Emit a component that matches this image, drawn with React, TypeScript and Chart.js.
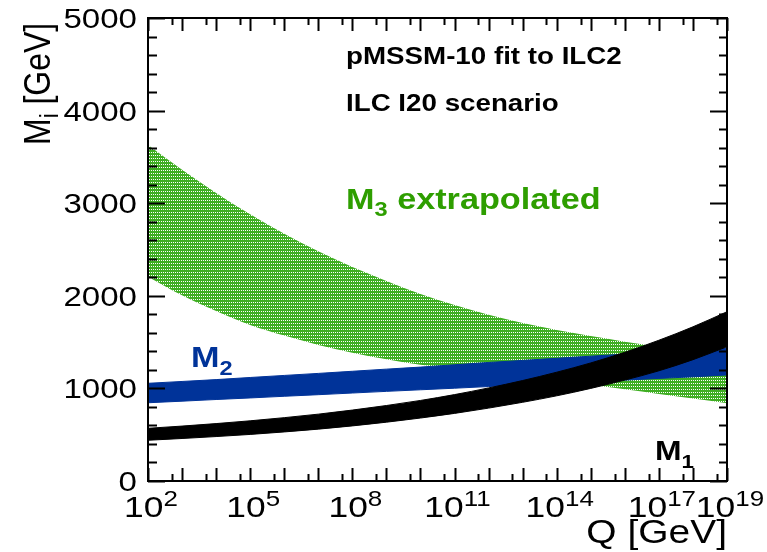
import { useEffect, useRef } from 'react';
import { Chart, registerables } from 'chart.js';

Chart.register(...registerables);

// Renormalisation scale exponents: Q = 10^e GeV
const qExponents = [2, 3, 4, 5, 6, 7, 8, 9, 10, 11, 12, 13, 14, 15, 16, 17, 18, 19];

// Gluino mass parameter M3 (extrapolated band), GeV
const m3Upper = [3628, 3360, 3110, 2880, 2670, 2480, 2310, 2160, 2020, 1900, 1795, 1705, 1630, 1565, 1505, 1450, 1395, 1345];
const m3Lower = [2206, 2005, 1835, 1685, 1570, 1470, 1385, 1315, 1255, 1213, 1167, 1121, 1080, 1039, 990, 940, 890, 839];

// Wino mass parameter M2, GeV
const m2Upper = [1055, 1075, 1095, 1118, 1140, 1162, 1185, 1208, 1230, 1255, 1280, 1302, 1325, 1348, 1370, 1390, 1410, 1433];
const m2Lower = [845, 862, 880, 897, 915, 932, 950, 968, 985, 1002, 1020, 1038, 1055, 1072, 1090, 1108, 1125, 1145];

// Bino mass parameter M1, GeV
const m1Upper = [569, 593, 620, 650, 684, 722, 766, 815, 870, 933, 1005, 1085, 1175, 1275, 1390, 1520, 1665, 1828];
const m1Lower = [440, 459, 480, 503, 530, 560, 595, 635, 680, 730, 787, 850, 920, 1000, 1090, 1190, 1310, 1450];

// Axis labelling
const xLabelExponents = [2, 5, 8, 11, 14, 17, 19];
const yLabelValues = [0, 1000, 2000, 3000, 4000, 5000];
const yMinorStep = 200;

const FONT = '"Liberation Sans", Arial, Helvetica, sans-serif';
const SX = 1.18; // horizontal text stretch

const GREEN_FILL = '#3fae22';
const GREEN_TEXT = '#2e9e00';
const BLUE = '#003399';

function series(values: number[]) {
  return qExponents.map((e, i) => ({ x: Math.pow(10, e), y: values[i] }));
}

function makeHatch(ctx: CanvasRenderingContext2D) {
  const c = document.createElement('canvas');
  c.width = 2;
  c.height = 3;
  const g = c.getContext('2d')!;
  g.fillStyle = GREEN_FILL;
  g.fillRect(0, 0, 2, 3);
  g.fillStyle = '#ffffff';
  g.fillRect(1, 2, 1, 1);
  return ctx.createPattern(c, 'repeat')!;
}

function text(
  ctx: CanvasRenderingContext2D,
  str: string,
  x: number,
  y: number,
  font: string,
  color: string,
  align: CanvasTextAlign = 'left'
) {
  ctx.save();
  ctx.font = font;
  ctx.fillStyle = color;
  ctx.textAlign = align;
  ctx.textBaseline = 'alphabetic';
  ctx.translate(x, y);
  ctx.scale(SX, 1);
  ctx.fillText(str, 0, 0);
  const w = ctx.measureText(str).width * SX;
  ctx.restore();
  return w;
}

function measure(ctx: CanvasRenderingContext2D, str: string, font: string) {
  ctx.save();
  ctx.font = font;
  const w = ctx.measureText(str).width * SX;
  ctx.restore();
  return w;
}

// Symbol with a subscript, e.g. M_3
function subText(
  ctx: CanvasRenderingContext2D,
  main: string,
  sub: string,
  rest: string,
  x: number,
  y: number,
  size: number,
  subSize: number,
  subDrop: number,
  color: string
) {
  const f = `bold ${size}px ${FONT}`;
  const fs = `bold ${subSize}px ${FONT}`;
  let cx = x;
  cx += text(ctx, main, cx, y, f, color);
  cx += text(ctx, sub, cx, y + subDrop, fs, color);
  if (rest) text(ctx, rest, cx, y, f, color);
}

const framePlugin = {
  id: 'rootFrame',
  afterDraw(chart: any) {
    const ctx: CanvasRenderingContext2D = chart.ctx;
    const { left, right, top, bottom } = chart.chartArea;
    const xs = chart.scales.x;
    const ys = chart.scales.y;

    ctx.save();
    ctx.strokeStyle = '#000';
    ctx.lineWidth = 2;
    ctx.strokeRect(left, top, right - left, bottom - top);

    // x ticks (bottom and top), decades and 5x10^n
    ctx.beginPath();
    for (let e = 2; e <= 19; e++) {
      const px = Math.round(xs.getPixelForValue(Math.pow(10, e))) + 0.5;
      ctx.moveTo(px, bottom);
      ctx.lineTo(px, bottom - 13);
      ctx.moveTo(px, top);
      ctx.lineTo(px, top + 13);
      if (e < 19) {
        const pm = Math.round(xs.getPixelForValue(5 * Math.pow(10, e))) + 0.5;
        ctx.moveTo(pm, bottom);
        ctx.lineTo(pm, bottom - 7);
        ctx.moveTo(pm, top);
        ctx.lineTo(pm, top + 7);
      }
    }
    // y ticks (left and right)
    for (let v = 0; v <= 5000; v += yMinorStep) {
      const py = Math.round(ys.getPixelForValue(v)) + 0.5;
      const major = v % 1000 === 0;
      ctx.moveTo(left, py);
      ctx.lineTo(left + (major ? 17 : 9), py);
      ctx.moveTo(right, py);
      ctx.lineTo(right - (major ? 17 : 8), py);
    }
    ctx.stroke();

    // y tick labels
    const tickFont = `28px ${FONT}`;
    yLabelValues.forEach((v) => {
      const py = ys.getPixelForValue(v);
      text(ctx, String(v), left - 11, py + 10, tickFont, '#000', 'right');
    });

    // x tick labels: 10^e
    const baseFont = `30px ${FONT}`;
    const expFont = `22px ${FONT}`;
    xLabelExponents.forEach((e) => {
      const px = xs.getPixelForValue(Math.pow(10, e));
      const wb = measure(ctx, '10', baseFont);
      const we = measure(ctx, String(e), expFont);
      const x0 = px - (wb + we) / 2 + 3;
      text(ctx, '10', x0, 517, baseFont, '#000');
      text(ctx, String(e), x0 + wb, 506, expFont, '#000');
    });

    // x axis title
    text(ctx, 'Q [GeV]', right, 543, `33px ${FONT}`, '#000', 'right');

    // y axis title, rotated
    ctx.save();
    ctx.translate(50, 145);
    ctx.rotate(-Math.PI / 2);
    ctx.scale(1, 1.18);
    ctx.fillStyle = '#000';
    ctx.textBaseline = 'alphabetic';
    ctx.font = `32px ${FONT}`;
    ctx.fillText('M', 0, 0);
    let cx = ctx.measureText('M').width;
    ctx.font = `22px ${FONT}`;
    ctx.fillText('i', cx, 7);
    cx += ctx.measureText('i').width;
    ctx.font = `32px ${FONT}`;
    ctx.fillText(' [GeV]', cx, 0);
    ctx.restore();

    // header
    const hf = `bold 23.5px ${FONT}`;
    text(ctx, 'pMSSM-10 fit to ILC2', 346, 64, hf, '#000');
    text(ctx, 'ILC I20 scenario', 346, 110.5, hf, '#000');

    // band labels
    subText(ctx, 'M', '3', ' extrapolated', 346, 209, 29, 20, 7, GREEN_TEXT);
    subText(ctx, 'M', '2', '', 191, 367, 29, 20, 8, BLUE);
    subText(ctx, 'M', '1', '', 655, 460, 27, 19, 8, '#000');

    ctx.restore();
  },
};

export default function App() {
  const ref = useRef<HTMLCanvasElement>(null);

  useEffect(() => {
    document.body.style.margin = '0';
    const canvas = ref.current!;
    const ctx = canvas.getContext('2d')!;
    const hatch = makeHatch(ctx);

    const band = (values: number[], order: number, fill: any, color: any, bw: number) => ({
      data: series(values),
      order,
      fill,
      backgroundColor: color,
      borderColor: color,
      borderWidth: bw,
      pointRadius: 0,
      tension: 0.3,
      cubicInterpolationMode: 'monotone' as const,
    });

    const chart = new Chart(canvas, {
      type: 'line',
      data: {
        datasets: [
          band(m3Lower, 3, false, hatch, 0),
          band(m3Upper, 3, '-1', hatch, 0),
          band(m2Lower, 2, false, BLUE, 1),
          band(m2Upper, 2, '-1', BLUE, 1),
          band(m1Lower, 1, false, '#000', 1),
          band(m1Upper, 1, '-1', '#000', 1),
        ],
      },
      options: {
        responsive: false,
        animation: false,
        devicePixelRatio: 1,
        layout: { padding: { left: 148, right: 40, top: 18, bottom: 71 } },
        plugins: {
          legend: { display: false },
          tooltip: { enabled: false },
        },
        scales: {
          x: { type: 'logarithmic', min: 1e2, max: 1e19, display: false },
          y: { type: 'linear', min: 0, max: 5000, display: false },
        },
      },
      plugins: [framePlugin],
    });

    return () => chart.destroy();
  }, []);

  return (
    <canvas
      ref={ref}
      width={767}
      height={552}
      style={{ display: 'block', width: 767, height: 552 }}
    />
  );
}
